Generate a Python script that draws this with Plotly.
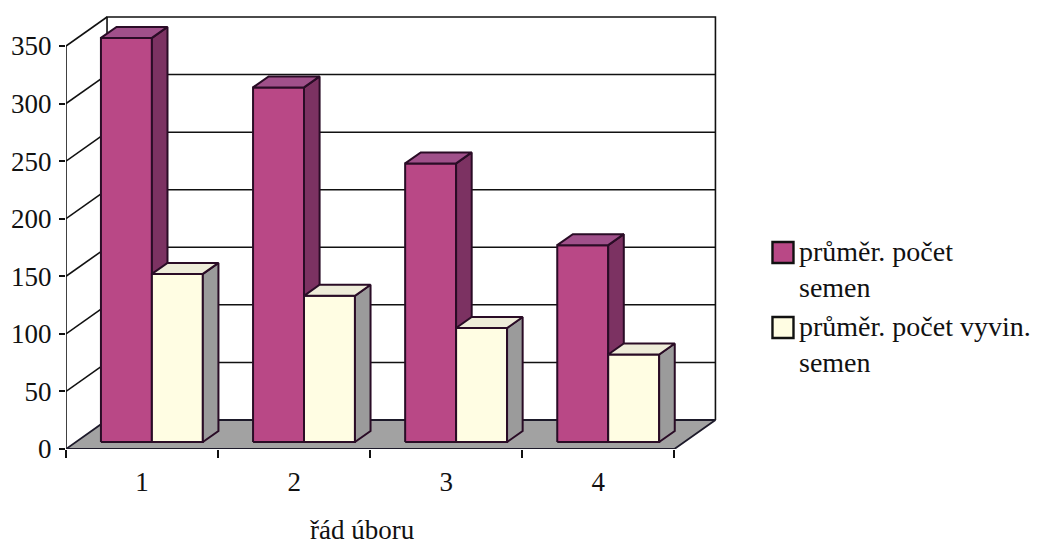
import plotly.graph_objects as go

# ---- data -------------------------------------------------------------
categories = ["1", "2", "3", "4"]
prumer_semen = [351, 308, 242, 171]      # průměr. počet semen
prumer_vyvin = [146, 127, 99, 76]        # průměr. počet vyvin. semen
series_names = ["průměr. počet<br>semen", "průměr. počet vyvin.<br>semen"]
y_ticks = [0, 50, 100, 150, 200, 250, 300, 350]
x_title = "řád úboru"

# ---- page / projection geometry ----------------------------------------
W, H = 1047, 544
ML, MT, MB = 66, 13, 95
PX_PER_CAT = 152.0          # horizontal pixels per category
PX_PER_UNIT = 1.1514        # vertical pixels per value unit
DEPTH_PX = (41.0, 29.0)     # oblique offset of the back wall, in pixels
DX = DEPTH_PX[0] / PX_PER_CAT
DY = DEPTH_PX[1] / PX_PER_UNIT
WALL_TOP = y_ticks[-1]
X0 = 0.5
X1 = len(categories) + 0.5
x_range = [X0, X1 + DX + 0.03]
plot_w = (x_range[1] - x_range[0]) * PX_PER_CAT
plot_h = H - MT - MB
y_range = [0, plot_h / PX_PER_UNIT]
MR = W - ML - plot_w

BAR_W = 0.335               # width of one bar in category units
F0, F1 = 0.24, 0.62         # front / back depth of the bar row (fraction of wall depth)

FONT = "Liberation Serif"
OUTLINE = "#2a0c26"
LINE = "#111111"

series_styles = [
    dict(front="#B94886", side="#7C3262", top="#A0508A"),
    dict(front="#FFFDE3", side="#9B9B9B", top="#EEECD9"),
]

fig = go.Figure()


def poly(xs, ys, fill, width=2.0, color=OUTLINE):
    fig.add_trace(go.Scatter(
        x=xs + [xs[0]], y=ys + [ys[0]], mode="lines", fill="toself",
        fillcolor=fill, line=dict(color=color, width=width),
        hoverinfo="skip", showlegend=False))


def polyline(xs, ys, width=1.6, color=LINE):
    fig.add_trace(go.Scatter(
        x=xs, y=ys, mode="lines", line=dict(color=color, width=width),
        hoverinfo="skip", showlegend=False))


# ---- walls: back wall with gridlines, left side wall -------------------
wx, wy = [], []
for v in y_ticks[1:-1]:
    wx += [X0 + DX, X1 + DX, None]
    wy += [v + DY, v + DY, None]
polyline(wx, wy, width=1.5)

# back wall frame
polyline([X0 + DX, X0 + DX, X1 + DX, X1 + DX],
         [DY, WALL_TOP + DY, WALL_TOP + DY, DY], width=1.6)

# side-wall diagonals from each front tick to the back wall
sx, sy = [], []
for v in y_ticks[1:]:
    sx += [X0, X0 + DX, None]
    sy += [v, v + DY, None]
polyline(sx, sy, width=1.6)

# front vertical axis line
polyline([X0, X0], [0, WALL_TOP], width=1.6)

# floor
poly([X0, X1, X1 + DX, X0 + DX], [0, 0, DY, DY], "#A2A2A2", width=1.8, color="#1d1a2a")

# ---- 3-D bars -----------------------------------------------------------
values = [prumer_semen, prumer_vyvin]
for ci in range(len(categories)):
    center = ci + 1
    for si, vals in enumerate(values):
        v = vals[ci]
        st = series_styles[si]
        xl = center - BAR_W + si * BAR_W
        xr = xl + BAR_W
        fx0, fy0 = F0 * DX, F0 * DY
        bx0, by0 = F1 * DX, F1 * DY
        # front face
        poly([xl + fx0, xr + fx0, xr + fx0, xl + fx0],
             [fy0, fy0, fy0 + v, fy0 + v], st["front"])
        # right side face
        poly([xr + fx0, xr + bx0, xr + bx0, xr + fx0],
             [fy0, by0, by0 + v, fy0 + v], st["side"])
        # top face
        poly([xl + fx0, xr + fx0, xr + bx0, xl + bx0],
             [fy0 + v, fy0 + v, by0 + v, by0 + v], st["top"])


# ---- legend (built from series names / colours) ------------------------
def px_x(px):
    return (px - ML) / plot_w


def px_y(py):
    return (H - MB - py) / plot_h


legend_left = 772
legend_top = 242
entry_step = 75
sq = 21
for i, name in enumerate(series_names):
    top = legend_top + i * entry_step
    fig.add_shape(type="rect", xref="paper", yref="paper",
                  x0=px_x(legend_left), x1=px_x(legend_left + sq),
                  y0=px_y(top + sq), y1=px_y(top),
                  fillcolor=series_styles[i]["front"],
                  line=dict(color="#111111", width=2.4))
    fig.add_annotation(xref="paper", yref="paper",
                       x=px_x(legend_left + sq + 4), y=px_y(top - 8),
                       xanchor="left", yanchor="top", align="left",
                       showarrow=False, text=name,
                       font=dict(family=FONT, size=28, color="#111111"))

# axis title
fig.add_annotation(xref="x", yref="paper", x=2.45, y=0,
                   xanchor="center", yanchor="top", yshift=-64,
                   showarrow=False, text=x_title,
                   font=dict(family=FONT, size=27, color="#111111"))

fig.update_layout(
    width=W, height=H,
    margin=dict(l=ML, r=MR, t=MT, b=MB, pad=0),
    paper_bgcolor="white", plot_bgcolor="white",
    showlegend=False,
    font=dict(family=FONT, size=27, color="#111111"),
    xaxis=dict(range=x_range, showgrid=False, zeroline=False, showline=False,
               tickmode="array", tickvals=[i + 1 for i in range(len(categories))],
               ticktext=categories, ticks="", ticklabelstandoff=14,
               tickfont=dict(family=FONT, size=27, color="#111111"),
               minor=dict(tickmode="array",
                          tickvals=[i + 0.5 for i in range(len(categories) + 1)],
                          ticks="outside", ticklen=8, tickwidth=1.6,
                          tickcolor=LINE, showgrid=False),
               fixedrange=True),
    yaxis=dict(range=y_range, showgrid=False, zeroline=False, showline=False,
               tickmode="array", tickvals=y_ticks, ticks="outside",
               tickfont=dict(family=FONT, size=27, color="#111111"),
               ticklen=6, tickwidth=1.6, tickcolor=LINE,
               ticklabelstandoff=2, fixedrange=True),
)

fig.write_html("out.html")
